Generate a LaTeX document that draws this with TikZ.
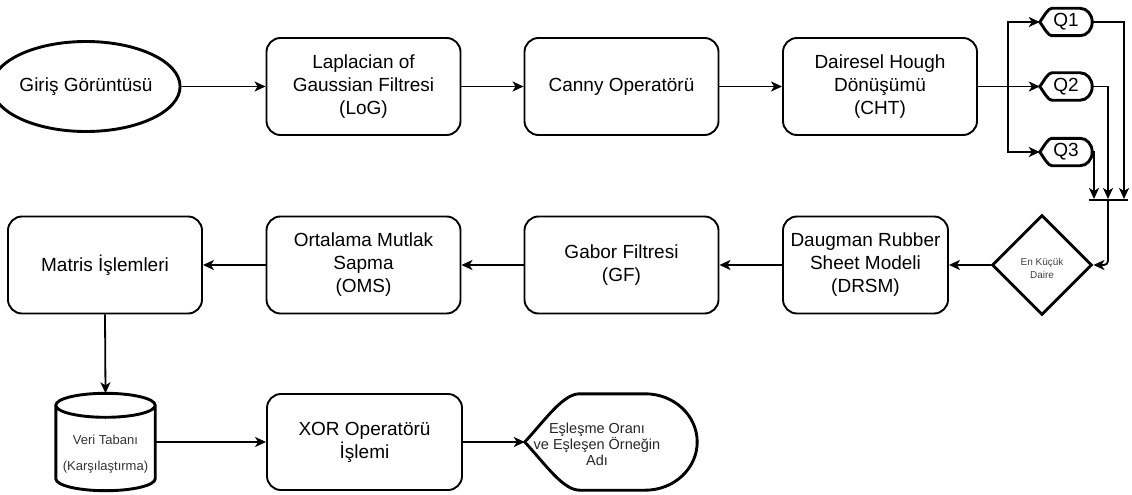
\documentclass[tikz,border=0pt]{standalone}
\usepackage{fontspec}
\setmainfont{Liberation Sans}
\usetikzlibrary{arrows.meta,shapes.geometric,calc}

\newcommand\dispdraw[3]{%
  \draw[thickshape] let \p1=(#1.north west), \p2=(#1.south east), \p3=(#1.west) in
    (\p3) .. controls ({\x1+0.4*#2},{\y3+0.5*(\y1-\y3)}) and ({\x1+0.7*#2},\y1) .. ({\x1+#2},\y1)
    -- ({\x2-#3},\y1) arc[start angle=90,end angle=-90,x radius=#3pt,y radius={\y1-\y3}]
    -- ({\x1+#2},\y2) .. controls ({\x1+0.7*#2},\y2) and ({\x1+0.4*#2},{\y3-0.5*(\y1-\y3)}) .. cycle;}

\newcommand\cyldraw[2]{%
  \draw[thickshape] let \p1=(#1.north west), \p2=(#1.south east) in
    (\x1,{\y1-#2}) -- (\x1,{\y2+#2})
    arc[start angle=180,end angle=360,x radius={(\x2-\x1)/2},y radius=#2pt]
    -- (\x2,{\y1-#2})
    arc[start angle=0,end angle=180,x radius={(\x2-\x1)/2},y radius=#2pt]
    arc[start angle=180,end angle=360,x radius={(\x2-\x1)/2},y radius=#2pt];}

\begin{document}
\begin{tikzpicture}[x=1pt,y=1pt,
  box/.style={draw, rounded corners=14pt, line width=1.9pt, minimum width=194pt,
    minimum height=97pt, align=center, inner sep=2pt, font=\fontsize{19}{23}\selectfont},
  thickshape/.style={line width=2.9pt},
  edge/.style={line width=1.8pt, -{Stealth[length=11pt,width=10pt,inset=3pt]}},
  plainline/.style={line width=1.8pt},
  qnode/.style={minimum width=52pt, minimum height=27pt, inner sep=0pt, font=\fontsize{19}{23}\selectfont}
]
\path[use as bounding box] (0,0) rectangle (1132,-495);

% top row
\node[ellipse, draw, thickshape, minimum width=163pt, minimum height=90pt, inner sep=0pt,
  font=\fontsize{19}{23}\selectfont] (in) at (86,-86.5) {Giriş Görüntüsü};
\node[box] (log) at (363.5,-86.5) {Laplacian of\\Gaussian Filtresi\\(LoG)};
\node[box] (canny) at (621.5,-86.5) {Canny Operatörü};
\node[box] (cht) at (880,-86.5) {Dairesel Hough\\Dönüşümü\\(CHT)};

% Q nodes
\node[qnode] (q1) at (1066,-22) {Q1};
\node[qnode] (q2) at (1066,-86.5) {Q2};
\node[qnode] (q3) at (1066,-152) {Q3};
\dispdraw{q1}{12}{12}
\dispdraw{q2}{12}{12}
\dispdraw{q3}{12}{12}

% middle row
\node[diamond, draw, thickshape, aspect=1, minimum width=100pt, minimum height=100pt, inner sep=0pt,
  label={[font=\fontsize{10}{13}\selectfont, align=center, text=black!75, yshift=-3pt]center:En Küçük\\Daire}]
  (dia) at (1042,-265) {};
\node[box, minimum width=165pt] (drsm) at (865.5,-265) {Daugman Rubber\\Sheet Modeli\\(DRSM)};
\node[box] (gabor) at (621.5,-265) {Gabor Filtresi\\(GF)};
\node[box] (oms) at (363.5,-265) {Ortalama Mutlak\\Sapma\\(OMS)};
\node[box] (matris) at (105,-265) {Matris İşlemleri};

% bottom row
\node[minimum width=99pt, minimum height=97pt, inner sep=0pt,
  label={[font=\fontsize{13}{26}\selectfont, align=center, text=black!80, yshift=-12pt]center:Veri Tabanı\\(Karşılaştırma)}]
  (db) at (105.5,-442) {};
\cyldraw{db}{12}
\node[box, minimum width=195pt, minimum height=96pt] (xor) at (364.5,-442) {XOR Operatörü\\İşlemi};
\node[minimum width=172pt, minimum height=96pt, inner sep=0pt,
  label={[font=\fontsize{14.5}{16}\selectfont, align=center, text=black!85, xshift=-14pt, yshift=-2pt]center:Eşleşme Oranı\\ve Eşleşen Örneğin\\Adı}]
  (res) at (611,-442) {};
\dispdraw{res}{55}{52}

% junction
\coordinate (br) at (1008,-86.5);
\coordinate (barL) at (1089,-200);
\coordinate (barR) at (1128,-200);
\coordinate (barM) at (1108,-200);
\coordinate (t1) at (1124,-199);
\coordinate (t2) at (1108,-199);
\coordinate (t3) at (1094,-199);

% connectors
\draw[edge] (in) -- (log);
\draw[edge] (log) -- (canny);
\draw[edge] (canny) -- (cht);
\draw[edge] (cht.east) -- (q2.west);
\draw[edge] (br) |- (q1.west);
\draw[edge] (br) |- (q3.west);
\draw[edge] (q1.east) -| (t1);
\draw[edge] (q2.east) -| (t2);
\draw[edge] (q3.east) -| (t3);
\draw[plainline] (barL) -- (barR);
\draw[edge, rounded corners=4pt] (barM) |- (dia.east);
\draw[edge] (dia) -- (drsm);
\draw[edge] (drsm) -- (gabor);
\draw[edge] (gabor) -- (oms);
\draw[edge] (oms) -- (matris);
\draw[edge] (matris.south) -- (db.north);
\draw[edge] (db.east) -- (xor.west);
\draw[edge] (xor.east) -- (res.west);
\end{tikzpicture}
\end{document}
